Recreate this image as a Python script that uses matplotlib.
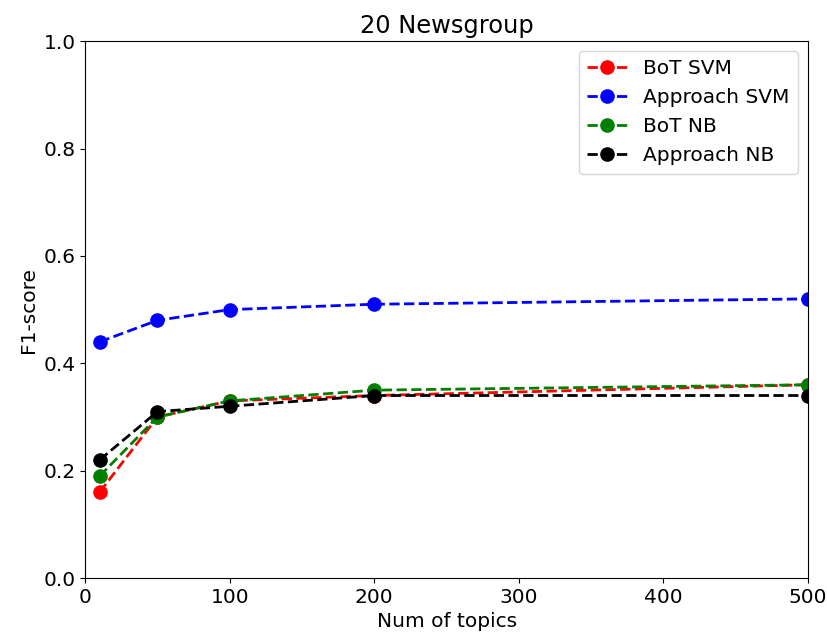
import numpy as np
import matplotlib
matplotlib.use('Agg')
import matplotlib.pyplot as plt

# data
topics = [10, 50, 100, 200, 500]
bot_svm = [0.16, 0.30, 0.33, 0.34, 0.36]
approach_svm = [0.44, 0.48, 0.50, 0.51, 0.52]
bot_nb = [0.19, 0.30, 0.33, 0.35, 0.36]
approach_nb = [0.22, 0.31, 0.32, 0.34, 0.34]

plt.rcParams['font.size'] = 14.5

fig = plt.figure(figsize=(8.27, 6.43), dpi=100)
ax = fig.add_axes([0.103, 0.101, 0.874, 0.835])

ax.plot(topics, bot_svm, 'o--', color='red', label='BoT SVM', lw=2, ms=9.5)
ax.plot(topics, approach_svm, 'o--', color='blue', label='Approach SVM', lw=2, ms=9.5)
ax.plot(topics, bot_nb, 'o--', color='green', label='BoT NB', lw=2, ms=9.5)
ax.plot(topics, approach_nb, 'o--', color='black', label='Approach NB', lw=2, ms=9.5)

ax.set_xlim(0, 500)
ax.set_ylim(0, 1.0)
ax.set_xlabel('Num of topics')
ax.set_ylabel('F1-score')
ax.set_title('20 Newsgroup')
ax.legend(loc='upper right')

fig.savefig('out.png', dpi=100)
